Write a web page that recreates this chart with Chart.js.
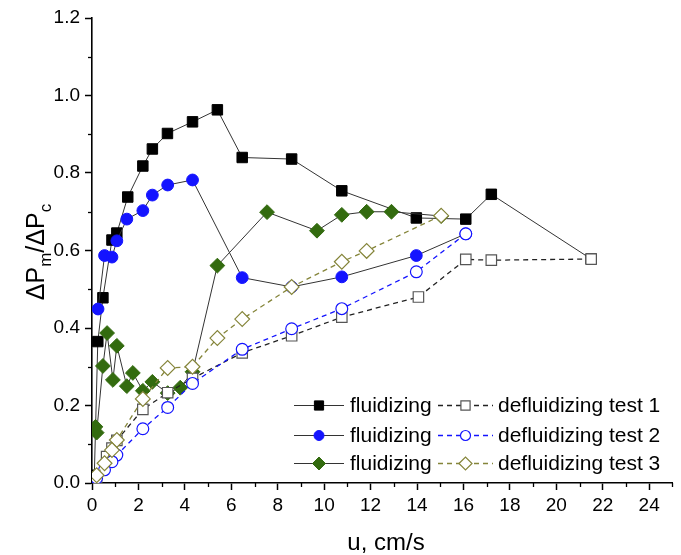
<!DOCTYPE html>
<html><head><meta charset="utf-8">
<script src="https://cdn.jsdelivr.net/npm/chart.js@4.4.1/dist/chart.umd.min.js"></script>
<style>html,body{margin:0;padding:0;background:#fff;}canvas{display:block;}</style>
</head><body>
<canvas id="c" width="681" height="555"></canvas>
<script>
// ---- data ----
const f1x = [0.1, 0.25, 0.47, 0.86, 1.07, 1.54, 2.19, 2.6, 3.25, 4.33, 5.4, 6.47, 8.6, 10.76, 13.97, 16.1, 17.2, 21.5];
const f1y = [0.02, 0.365, 0.478, 0.627, 0.645, 0.738, 0.818, 0.862, 0.902, 0.932, 0.963, 0.84, 0.836, 0.754, 0.684, 0.681, 0.745, 0.578];
const f2x = [0.26, 0.54, 0.86, 1.07, 1.5, 2.19, 2.6, 3.26, 4.33, 6.47, 8.6, 10.76, 13.97, 16.1];
const f2y = [0.449, 0.587, 0.583, 0.625, 0.681, 0.703, 0.743, 0.769, 0.782, 0.53, 0.506, 0.532, 0.587, 0.643];
const f3x = [0.15, 0.2, 0.47, 0.65, 0.9, 1.07, 1.5, 1.76, 2.19, 2.6, 3.26, 3.8, 4.33, 5.4, 7.54, 9.69, 10.76, 11.83, 12.9, 15.04];
const f3y = [0.145, 0.13, 0.302, 0.387, 0.266, 0.354, 0.25, 0.284, 0.238, 0.261, 0.232, 0.246, 0.287, 0.561, 0.699, 0.651, 0.692, 0.70, 0.70, 0.689];
const d1x = [21.5, 17.2, 16.1, 14.06, 10.76, 8.6, 6.47, 4.33, 3.26, 2.19, 1.07, 0.86, 0.63, 0.2];
const d1y = [0.578, 0.575, 0.577, 0.48, 0.428, 0.38, 0.336, 0.27, 0.233, 0.19, 0.11, 0.09, 0.068, 0.015];
const d2x = [16.1, 13.97, 10.76, 8.6, 6.47, 4.33, 3.26, 2.19, 1.07, 0.86, 0.54, 0.2];
const d2y = [0.643, 0.545, 0.45, 0.398, 0.345, 0.257, 0.195, 0.14, 0.072, 0.055, 0.034, 0.013];
const d3x = [15.04, 11.83, 10.76, 8.6, 6.47, 5.4, 4.33, 3.26, 2.19, 1.07, 0.86, 0.54, 0.2];
const d3y = [0.69, 0.599, 0.571, 0.506, 0.423, 0.374, 0.30, 0.297, 0.217, 0.111, 0.085, 0.051, 0.02];

const seriesLabels = ['fluidizing', 'fluidizing', 'fluidizing', 'defluidizing test 1', 'defluidizing test 2', 'defluidizing test 3'];
const xMajor = [0, 2, 4, 6, 8, 10, 12, 14, 16, 18, 20, 22, 24];
const xMinor = [1, 3, 5, 7, 9, 11, 13, 15, 17, 19, 21, 23, 25];
const yMajor = [0.0, 0.2, 0.4, 0.6, 0.8, 1.0, 1.2];
const yMinor = [0.1, 0.3, 0.5, 0.7, 0.9, 1.1];
const xTitle = 'u, cm/s';

// ---- styles ----
const FONT = "'Liberation Sans', Arial, sans-serif";
const GREEN = '#336b0f';
const BLUE = '#1414ff';
const OLIVE = '#85853a';
const pts = (xs, ys) => xs.map((x, i) => ({x: x, y: ys[i]}));

const styles = [
  {pointStyle: 'rect', radius: 7.4, bg: '#000', bc: '#000', bw: 1, line: '#333', dash: [], lw: 1, order: 6},
  {pointStyle: 'circle', radius: 5.9, bg: BLUE, bc: BLUE, bw: 1, line: '#333', dash: [], lw: 1, order: 5},
  {pointStyle: 'rectRot', radius: 7.4, bg: GREEN, bc: GREEN, bw: 1, line: '#333', dash: [], lw: 1, order: 4},
  {pointStyle: 'rect', radius: 7.4, bg: '#fff', bc: '#555', bw: 1.2, line: '#222', dash: [5, 4], lw: 1.3, order: 3},
  {pointStyle: 'circle', radius: 5.9, bg: '#fff', bc: BLUE, bw: 1.2, line: BLUE, dash: [5, 4], lw: 1.3, order: 2},
  {pointStyle: 'rectRot', radius: 7.4, bg: '#fff', bc: OLIVE, bw: 1.2, line: OLIVE, dash: [5, 4], lw: 1.3, order: 1}
];
const seriesData = [pts(f1x, f1y), pts(f2x, f2y), pts(f3x, f3y), pts(d1x, d1y), pts(d2x, d2y), pts(d3x, d3y)];

const datasets = seriesData.map((d, i) => {
  const s = styles[i];
  return {
    label: seriesLabels[i], data: d, showLine: true, order: s.order,
    borderColor: s.line, borderWidth: s.lw, borderDash: s.dash,
    pointStyle: s.pointStyle, pointRadius: s.radius,
    pointBackgroundColor: s.bg, pointBorderColor: s.bc, pointBorderWidth: s.bw,
    pointHoverRadius: s.radius, tension: 0, fill: false
  };
});

function marker(ctx, style, r, x, y, bg, bc, bw) {
  ctx.save();
  ctx.setLineDash([]);
  ctx.beginPath();
  if (style === 'rect') {
    const h = r * Math.SQRT1_2;
    ctx.rect(x - h, y - h, 2 * h, 2 * h);
  } else if (style === 'circle') {
    ctx.arc(x, y, r, 0, Math.PI * 2);
  } else {
    ctx.moveTo(x - r, y); ctx.lineTo(x, y - r); ctx.lineTo(x + r, y); ctx.lineTo(x, y + r); ctx.closePath();
  }
  ctx.fillStyle = bg; ctx.fill();
  ctx.lineWidth = bw; ctx.strokeStyle = bc; ctx.stroke();
  ctx.restore();
}

const extras = {
  id: 'extras',
  afterDraw(chart) {
    const ctx = chart.ctx;
    const xs = chart.scales.x, ys = chart.scales.y;
    const ca = chart.chartArea;
    ctx.save();
    // minor ticks
    ctx.strokeStyle = '#000'; ctx.lineWidth = 1.3;
    xMinor.forEach(v => {
      const px = Math.round(xs.getPixelForValue(v)) + 0.5;
      ctx.beginPath(); ctx.moveTo(px, ca.bottom); ctx.lineTo(px, ca.bottom + 4); ctx.stroke();
    });
    yMinor.forEach(v => {
      const py = Math.round(ys.getPixelForValue(v)) + 0.5;
      ctx.beginPath(); ctx.moveTo(ca.left - 4, py); ctx.lineTo(ca.left, py); ctx.stroke();
    });
    // x title
    ctx.fillStyle = '#000';
    ctx.font = '24px ' + FONT;
    ctx.textAlign = 'center'; ctx.textBaseline = 'alphabetic';
    ctx.fillText(xTitle, 386, 550);
    // y title with subscripts
    const big = '25px ' + FONT, small = '17px ' + FONT;
    const parts = [['\u0394P', big, 0], ['m', small, 7], ['/\u0394P', big, 0], ['c', small, 7]];
    let total = 0;
    parts.forEach(p => { ctx.font = p[1]; total += ctx.measureText(p[0]).width; });
    ctx.translate(44, 252);
    ctx.rotate(-Math.PI / 2);
    ctx.textAlign = 'left';
    let cx = -total / 2;
    parts.forEach(p => { ctx.font = p[1]; ctx.fillText(p[0], cx, p[2]); cx += ctx.measureText(p[0]).width; });
    ctx.restore();

    // legend
    ctx.save();
    const rowsY = [405, 435, 463];
    const cols = [{x0: 294, x1: 344, tx: 350}, {x0: 438, x1: 493, tx: 498}];
    ctx.font = '21px ' + FONT;
    ctx.textBaseline = 'middle'; ctx.textAlign = 'left';
    for (let i = 0; i < 6; i++) {
      const col = cols[i < 3 ? 0 : 1];
      const y = rowsY[i % 3];
      const s = styles[i];
      ctx.save();
      ctx.strokeStyle = s.line; ctx.lineWidth = s.lw; ctx.setLineDash(s.dash.length ? [5, 4] : []);
      ctx.beginPath(); ctx.moveTo(col.x0, y + 0.5); ctx.lineTo(col.x1, y + 0.5); ctx.stroke();
      ctx.restore();
      const r = s.pointStyle === 'rect' ? 6.5 : (s.pointStyle === 'circle' ? 5 : 6.5);
      marker(ctx, s.pointStyle, r, (col.x0 + col.x1) / 2, y + 0.5, s.bg, s.bc, s.bw);
      ctx.fillStyle = '#000';
      ctx.fillText(seriesLabels[i], col.tx, y + 1);
    }
    ctx.restore();
  }
};

new Chart(document.getElementById('c'), {
  type: 'scatter',
  data: {datasets: datasets},
  options: {
    responsive: false, animation: false, devicePixelRatio: 1,
    layout: {padding: {top: 18, right: 4, left: 0, bottom: 0}},
    plugins: {legend: {display: false}, tooltip: {enabled: false}},
    scales: {
      x: {
        type: 'linear', min: 0, max: 25,
        afterBuildTicks: s => { s.ticks = xMajor.map(v => ({value: v})); },
        afterFit: s => { s.height = 72; },
        ticks: {font: {size: 19, family: FONT}, color: '#000', padding: 4, maxRotation: 0, autoSkip: false,
          callback: v => String(v)},
        grid: {display: true, drawOnChartArea: false, drawTicks: true, tickLength: 7, tickColor: '#000', tickWidth: 1.5},
        border: {display: true, color: '#000', width: 1.6}
      },
      y: {
        type: 'linear', min: 0, max: 1.2,
        afterBuildTicks: s => { s.ticks = yMajor.map(v => ({value: v})); },
        afterFit: s => { s.width = 92; },
        ticks: {font: {size: 19, family: FONT}, color: '#000', padding: 5, autoSkip: false,
          callback: v => Number(v).toFixed(1)},
        grid: {display: true, drawOnChartArea: false, drawTicks: true, tickLength: 7, tickColor: '#000', tickWidth: 1.5},
        border: {display: true, color: '#000', width: 1.6}
      }
    }
  },
  plugins: [extras]
});
</script>
</body></html>
